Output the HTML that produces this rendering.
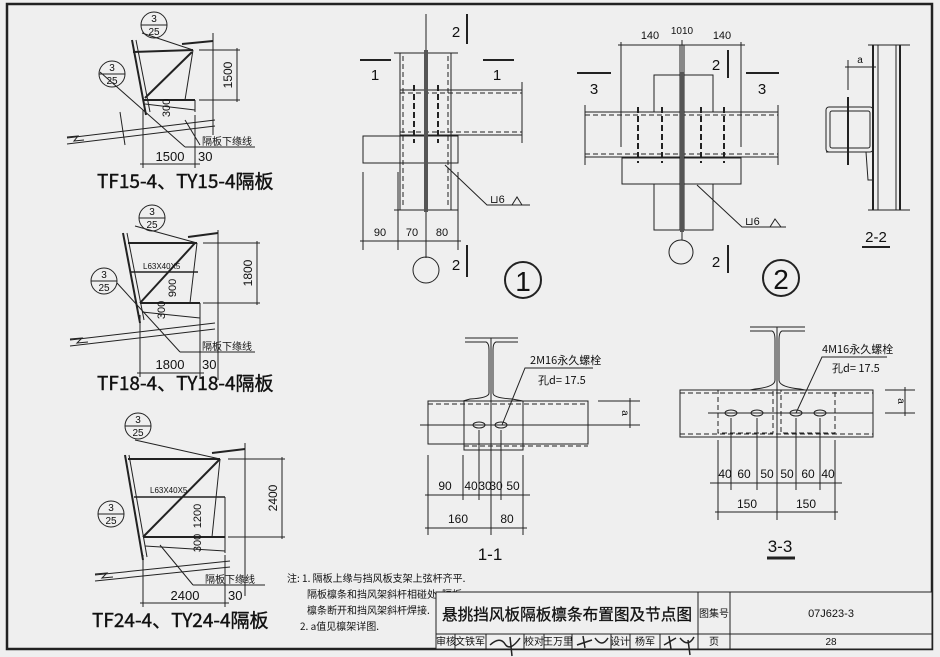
<!DOCTYPE html>
<html><head><meta charset="utf-8"><style>
html,body{margin:0;padding:0;background:#efefef}
svg{display:block}
text{font-family:"Liberation Sans","Noto Sans CJK SC",sans-serif;fill:#111}
.c{font-family:"Noto Sans CJK SC","WenQuanYi Zen Hei",sans-serif}
</style></head><body>
<svg width="940" height="657" viewBox="0 0 940 657" xmlns="http://www.w3.org/2000/svg" stroke="#222" fill="none" stroke-width="1">
<rect x="0" y="0" width="940" height="657" fill="#efefef" stroke="none"/>
<rect x="7" y="4" width="925" height="645" stroke-width="2.5"/>

<!-- ===== Left drawing 1 ===== -->
<g>
<circle cx="154" cy="25" r="13"/><line x1="141" y1="25" x2="167" y2="25"/>
<text x="154" y="22" font-size="10" text-anchor="middle" stroke="none">3</text><text x="154" y="35" font-size="10" text-anchor="middle" stroke="none">25</text>
<circle cx="112" cy="74" r="13"/><line x1="99" y1="74" x2="125" y2="74"/>
<text x="112" y="71" font-size="10" text-anchor="middle" stroke="none">3</text><text x="112" y="84" font-size="10" text-anchor="middle" stroke="none">25</text>
<line x1="142" y1="33" x2="193" y2="50"/><line x1="133" y1="52" x2="193" y2="50" stroke-width="2"/>
<line x1="132" y1="40" x2="146" y2="115" stroke-width="2"/><line x1="136" y1="40" x2="150" y2="112"/>
<line x1="193" y1="50" x2="185" y2="100"/><line x1="143" y1="100" x2="195" y2="100" stroke-width="2"/>
<line x1="145" y1="98" x2="192" y2="52" stroke-width="2"/>
<line x1="145" y1="104" x2="195" y2="110"/><line x1="195" y1="100" x2="195" y2="112"/>
<line x1="182" y1="44" x2="213" y2="41" stroke-width="2"/><line x1="213" y1="33" x2="213" y2="135"/>
<line x1="199" y1="50" x2="240" y2="50"/><line x1="199" y1="100" x2="240" y2="100"/>
<line x1="237" y1="48" x2="237" y2="102"/>
<text transform="translate(232,75) rotate(-90)" font-size="12" text-anchor="middle" stroke="none">1500</text>
<text transform="translate(170,108) rotate(-90)" font-size="11" text-anchor="middle" stroke="none">300</text>
<polyline points="67,138 215,120"/><polyline points="67,144 215,126"/>
<polyline points="67,137 78,136 74,141 84,140"/>
<line x1="120" y1="112" x2="125" y2="145"/><line x1="185" y1="120" x2="200" y2="145"/>
<line x1="143" y1="110" x2="143" y2="168"/><line x1="195" y1="115" x2="195" y2="168"/>
<line x1="140" y1="164" x2="200" y2="164"/>
<line x1="100" y1="72" x2="185" y2="147"/><line x1="185" y1="147" x2="255" y2="147"/>
<text x="202" y="145" font-size="10" class="c" stroke="none">隔板下缘线</text>
<text x="170" y="161" font-size="13" text-anchor="middle" stroke="none">1500</text>
<text x="198" y="161" font-size="13" stroke="none">30</text>
<text x="97" y="188" font-size="19" class="c" stroke="#111" stroke-width="0.4">TF15-4、TY15-4隔板</text>
</g>

<!-- ===== Left drawing 2 ===== -->
<g>
<circle cx="152" cy="218" r="13"/><line x1="139" y1="218" x2="165" y2="218"/>
<text x="152" y="215" font-size="10" text-anchor="middle" stroke="none">3</text><text x="152" y="228" font-size="10" text-anchor="middle" stroke="none">25</text>
<circle cx="104" cy="281" r="13"/><line x1="91" y1="281" x2="117" y2="281"/>
<text x="104" y="278" font-size="10" text-anchor="middle" stroke="none">3</text><text x="104" y="291" font-size="10" text-anchor="middle" stroke="none">25</text>
<line x1="135" y1="226" x2="197" y2="243"/><line x1="128" y1="243" x2="197" y2="243" stroke-width="2"/>
<line x1="123" y1="233" x2="140" y2="323" stroke-width="2"/><line x1="127" y1="233" x2="144" y2="320"/>
<line x1="197" y1="243" x2="190" y2="303"/><line x1="130" y1="272" x2="198" y2="272" stroke-width="1.5"/>
<line x1="140" y1="303" x2="200" y2="303" stroke-width="2"/><line x1="140" y1="303" x2="195" y2="243" stroke-width="2"/>
<line x1="142" y1="312" x2="200" y2="318"/><line x1="200" y1="303" x2="200" y2="320"/>
<line x1="188" y1="237" x2="218" y2="233" stroke-width="2"/><line x1="218" y1="230" x2="218" y2="380"/>
<line x1="203" y1="243" x2="260" y2="243"/><line x1="203" y1="303" x2="260" y2="303"/>
<line x1="257" y1="241" x2="257" y2="305"/>
<text transform="translate(252,273) rotate(-90)" font-size="12" text-anchor="middle" stroke="none">1800</text>
<text transform="translate(176,288) rotate(-90)" font-size="11" text-anchor="middle" stroke="none">900</text>
<text transform="translate(165,310) rotate(-90)" font-size="11" text-anchor="middle" stroke="none">300</text>
<text x="143" y="269" font-size="8" stroke="none">L63X40X5</text>
<polyline points="70,340 215,323"/><polyline points="70,346 215,329"/>
<polyline points="70,339 82,338 77,343 88,342"/>
<line x1="140" y1="315" x2="140" y2="377"/><line x1="200" y1="320" x2="200" y2="377"/>
<line x1="137" y1="373" x2="204" y2="373"/>
<line x1="117" y1="283" x2="180" y2="352"/><line x1="180" y1="352" x2="255" y2="352"/>
<text x="202" y="350" font-size="10" class="c" stroke="none">隔板下缘线</text>
<text x="170" y="369" font-size="13" text-anchor="middle" stroke="none">1800</text>
<text x="202" y="369" font-size="13" stroke="none">30</text>
<text x="97" y="390" font-size="19" class="c" stroke="#111" stroke-width="0.4">TF18-4、TY18-4隔板</text>
</g>

<!-- ===== Left drawing 3 ===== -->
<g>
<circle cx="138" cy="426" r="13"/><line x1="125" y1="426" x2="151" y2="426"/>
<text x="138" y="423" font-size="10" text-anchor="middle" stroke="none">3</text><text x="138" y="436" font-size="10" text-anchor="middle" stroke="none">25</text>
<circle cx="111" cy="514" r="13"/><line x1="98" y1="514" x2="124" y2="514"/>
<text x="111" y="511" font-size="10" text-anchor="middle" stroke="none">3</text><text x="111" y="524" font-size="10" text-anchor="middle" stroke="none">25</text>
<line x1="135" y1="440" x2="220" y2="459"/><line x1="128" y1="459" x2="220" y2="459" stroke-width="2"/>
<line x1="125" y1="455" x2="143" y2="560" stroke-width="2"/><line x1="129" y1="455" x2="147" y2="557"/>
<line x1="220" y1="459" x2="212" y2="537"/><line x1="134" y1="497" x2="225" y2="497" stroke-width="1.5"/>
<line x1="143" y1="537" x2="225" y2="537" stroke-width="2"/><line x1="143" y1="537" x2="220" y2="459" stroke-width="2"/>
<line x1="145" y1="546" x2="225" y2="551"/><line x1="225" y1="497" x2="225" y2="553"/>
<line x1="212" y1="453" x2="245" y2="449" stroke-width="2"/><line x1="245" y1="443" x2="245" y2="596"/>
<line x1="228" y1="459" x2="285" y2="459"/><line x1="228" y1="537" x2="285" y2="537"/>
<line x1="282" y1="457" x2="282" y2="539"/>
<text transform="translate(277,498) rotate(-90)" font-size="12" text-anchor="middle" stroke="none">2400</text>
<text transform="translate(201,516) rotate(-90)" font-size="11" text-anchor="middle" stroke="none">1200</text>
<text transform="translate(201,543) rotate(-90)" font-size="11" text-anchor="middle" stroke="none">300</text>
<text x="150" y="493" font-size="8" stroke="none">L63X40X5</text>
<polyline points="95,575 230,561"/><polyline points="95,581 230,567"/>
<polyline points="95,574 107,573 102,578 113,577"/>
<line x1="143" y1="555" x2="143" y2="607"/><line x1="225" y1="555" x2="225" y2="607"/>
<line x1="140" y1="603" x2="229" y2="603"/>
<line x1="160" y1="545" x2="193" y2="585"/><line x1="193" y1="585" x2="265" y2="585"/>
<text x="205" y="583" font-size="10" class="c" stroke="none">隔板下缘线</text>
<text x="185" y="600" font-size="13" text-anchor="middle" stroke="none">2400</text>
<text x="228" y="600" font-size="13" stroke="none">30</text>
<text x="92" y="627" font-size="19" class="c" stroke="#111" stroke-width="0.4">TF24-4、TY24-4隔板</text>
</g>

<!-- ===== Detail 1 ===== -->
<g>
<line x1="426" y1="14" x2="426" y2="258"/>
<rect x="400" y="53" width="51" height="157"/>
<line x1="394" y1="53" x2="458" y2="53"/><line x1="394" y1="210" x2="458" y2="210"/>
<line x1="400" y1="90" x2="522" y2="90"/><line x1="400" y1="135" x2="522" y2="135"/>
<line x1="400" y1="93" x2="522" y2="93" stroke-dasharray="5,3"/><line x1="400" y1="132" x2="522" y2="132" stroke-dasharray="5,3"/>
<line x1="522" y1="82" x2="522" y2="143"/>
<line x1="403" y1="56" x2="403" y2="206" stroke-dasharray="5,3"/><line x1="448" y1="56" x2="448" y2="206" stroke-dasharray="5,3"/>
<rect x="363" y="136" width="95" height="27"/>
<line x1="414" y1="85" x2="414" y2="143" stroke-width="2" stroke-dasharray="6,3"/>
<line x1="438" y1="85" x2="438" y2="143" stroke-width="2" stroke-dasharray="6,3"/>
<line x1="426" y1="50" x2="426" y2="212" stroke-width="4" stroke="#555"/>
<line x1="360" y1="60" x2="391" y2="60" stroke-width="2"/><text x="375" y="80" font-size="15" text-anchor="middle" stroke="none">1</text>
<line x1="483" y1="60" x2="514" y2="60" stroke-width="2"/><text x="497" y="80" font-size="15" text-anchor="middle" stroke="none">1</text>
<line x1="467" y1="14" x2="467" y2="44" stroke-width="2"/><text x="456" y="37" font-size="15" text-anchor="middle" stroke="none">2</text>
<line x1="467" y1="245" x2="467" y2="277" stroke-width="2"/><text x="456" y="270" font-size="15" text-anchor="middle" stroke="none">2</text>
<line x1="363" y1="172" x2="363" y2="250"/><line x1="398" y1="172" x2="398" y2="250"/><line x1="458" y1="172" x2="458" y2="250"/>
<line x1="360" y1="241" x2="461" y2="241"/>
<text x="380" y="236" font-size="11" text-anchor="middle" stroke="none">90</text>
<text x="412" y="236" font-size="11" text-anchor="middle" stroke="none">70</text>
<text x="442" y="236" font-size="11" text-anchor="middle" stroke="none">80</text>
<circle cx="426" cy="270" r="13"/>
<polyline points="445,165 487,205 530,205"/>
<text x="490" y="203" font-size="11" stroke="none">⊔6</text>
<polyline points="512,205 517,197 522,205"/>
<circle cx="523" cy="280" r="18" stroke-width="2"/><text x="523" y="291" font-size="28" text-anchor="middle" stroke="none">1</text>
</g>

<!-- ===== Detail 2 ===== -->
<g>
<line x1="682" y1="40" x2="682" y2="240"/>
<line x1="618" y1="45" x2="745" y2="45"/>
<line x1="621" y1="42" x2="621" y2="147"/><line x1="741" y1="42" x2="741" y2="147"/>
<text x="650" y="39" font-size="11" text-anchor="middle" stroke="none">140</text>
<text x="682" y="34" font-size="10" text-anchor="middle" stroke="none">1010</text>
<text x="722" y="39" font-size="11" text-anchor="middle" stroke="none">140</text>
<line x1="585" y1="112" x2="778" y2="112"/><line x1="585" y1="157" x2="778" y2="157"/>
<line x1="585" y1="115" x2="778" y2="115" stroke-dasharray="5,3"/><line x1="585" y1="154" x2="778" y2="154" stroke-dasharray="5,3"/>
<line x1="585" y1="105" x2="585" y2="165"/><line x1="778" y1="105" x2="778" y2="165"/>
<polyline points="654,112 654,75 713,75 713,112"/>
<rect x="622" y="158" width="119" height="26"/>
<polyline points="654,184 654,230 713,230 713,184"/>
<line x1="638" y1="107" x2="638" y2="163" stroke-width="2" stroke-dasharray="6,3"/>
<line x1="662" y1="107" x2="662" y2="163" stroke-width="2" stroke-dasharray="6,3"/>
<line x1="701" y1="107" x2="701" y2="163" stroke-width="2" stroke-dasharray="6,3"/>
<line x1="724" y1="107" x2="724" y2="163" stroke-width="2" stroke-dasharray="6,3"/>
<line x1="680" y1="45" x2="680" y2="230"/><line x1="684" y1="45" x2="684" y2="230"/>
<line x1="682" y1="72" x2="682" y2="232" stroke-width="4" stroke="#555"/>
<line x1="577" y1="73" x2="611" y2="73" stroke-width="2"/><text x="594" y="94" font-size="15" text-anchor="middle" stroke="none">3</text>
<line x1="746" y1="73" x2="779" y2="73" stroke-width="2"/><text x="762" y="94" font-size="15" text-anchor="middle" stroke="none">3</text>
<line x1="728" y1="50" x2="728" y2="78" stroke-width="2"/><text x="716" y="70" font-size="15" text-anchor="middle" stroke="none">2</text>
<line x1="728" y1="245" x2="728" y2="273" stroke-width="2"/><text x="716" y="267" font-size="15" text-anchor="middle" stroke="none">2</text>
<circle cx="681" cy="252" r="12"/>
<polyline points="697,185 742,227 786,227"/>
<text x="745" y="225" font-size="11" stroke="none">⊔6</text>
<polyline points="770,227 775,219 781,227"/>
<circle cx="781" cy="278" r="18" stroke-width="2"/><text x="781" y="289" font-size="28" text-anchor="middle" stroke="none">2</text>
</g>

<!-- ===== 2-2 ===== -->
<g>
<line x1="873" y1="45" x2="873" y2="210" stroke-width="2"/><line x1="878" y1="45" x2="878" y2="210"/>
<line x1="896" y1="45" x2="896" y2="210"/><line x1="900" y1="45" x2="900" y2="210" stroke-width="2"/>
<line x1="868" y1="45" x2="910" y2="45"/><line x1="868" y1="210" x2="910" y2="210"/>
<rect x="826" y="107" width="47" height="45" rx="3"/><rect x="830" y="111" width="40" height="37" rx="2"/>
<polyline points="826,152 866,152 868,180 873,180"/>
<line x1="848" y1="97" x2="848" y2="165" stroke-width="2"/>
<line x1="848" y1="60" x2="848" y2="90"/><line x1="845" y1="67" x2="876" y2="67"/>
<text x="860" y="63" font-size="10" text-anchor="middle" stroke="none">a</text>
<text x="876" y="242" font-size="15" text-anchor="middle" stroke="none">2-2</text>
<line x1="862" y1="247" x2="890" y2="247" stroke-width="2"/>
</g>

<!-- ===== 1-1 ===== -->
<g>
<path d="M465,338 L518,338 M465,342 L486,342 Q489,343 489,350 L489,393 Q489,398 470,399 L463,401 M518,342 L496,342 Q493,343 493,350 L493,393 Q493,398 512,399 L523,401"/>
<line x1="491" y1="338" x2="491" y2="450" />
<rect x="428" y="401" width="160" height="43"/>
<line x1="428" y1="404" x2="588" y2="404" stroke-dasharray="5,3"/>
<rect x="464" y="401" width="59" height="49"/>
<line x1="464" y1="446" x2="588" y2="446" stroke-dasharray="5,3"/>
<line x1="420" y1="425" x2="640" y2="425"/>
<ellipse cx="479" cy="425" rx="6" ry="3"/><ellipse cx="501" cy="425" rx="6" ry="3"/>
<line x1="598" y1="401" x2="640" y2="401"/><line x1="630" y1="398" x2="630" y2="428"/>
<text transform="translate(622,413) rotate(90)" font-size="10" text-anchor="middle" stroke="none">a</text>
<line x1="428" y1="455" x2="428" y2="535"/><line x1="463" y1="455" x2="463" y2="500"/>
<line x1="479" y1="430" x2="479" y2="500"/><line x1="491" y1="450" x2="491" y2="535"/>
<line x1="501" y1="430" x2="501" y2="500"/><line x1="523" y1="455" x2="523" y2="535"/>
<line x1="425" y1="495" x2="530" y2="495"/><line x1="425" y1="528" x2="527" y2="528"/>
<text x="445" y="490" font-size="12" text-anchor="middle" stroke="none">90</text>
<text x="471" y="490" font-size="12" text-anchor="middle" stroke="none">40</text>
<text x="485" y="490" font-size="12" text-anchor="middle" stroke="none">30</text>
<text x="496" y="490" font-size="12" text-anchor="middle" stroke="none">30</text>
<text x="513" y="490" font-size="12" text-anchor="middle" stroke="none">50</text>
<text x="458" y="523" font-size="12" text-anchor="middle" stroke="none">160</text>
<text x="507" y="523" font-size="12" text-anchor="middle" stroke="none">80</text>
<polyline points="502,425 525,368 593,368"/>
<text x="530" y="364" font-size="11" class="c" stroke="none">2M16永久螺栓</text>
<text x="538" y="384" font-size="11" class="c" stroke="none">孔d= 17.5</text>
<text x="490" y="560" font-size="17" text-anchor="middle" stroke="none">1-1</text>
</g>

<!-- ===== 3-3 ===== -->
<g>
<path d="M750,327 L805,327 M750,331 L772,331 Q775,332 775,340 L775,380 Q775,387 755,389 L750,390 M805,331 L782,331 Q779,332 779,340 L779,380 Q779,387 800,389 L805,390"/>
<line x1="777" y1="327" x2="777" y2="520"/>
<rect x="680" y="390" width="193" height="47"/>
<line x1="680" y1="393" x2="873" y2="393" stroke-dasharray="5,3"/><line x1="680" y1="434" x2="873" y2="434" stroke-dasharray="5,3"/>
<rect x="718" y="390" width="55" height="43" stroke-dasharray="5,3"/><rect x="781" y="390" width="54" height="43" stroke-dasharray="5,3"/>
<line x1="708" y1="413" x2="873" y2="413"/>
<ellipse cx="731" cy="413" rx="6" ry="3"/><ellipse cx="757" cy="413" rx="6" ry="3"/>
<ellipse cx="796" cy="413" rx="6" ry="3"/><ellipse cx="820" cy="413" rx="6" ry="3"/>
<line x1="885" y1="390" x2="915" y2="390"/><line x1="885" y1="413" x2="915" y2="413"/>
<line x1="905" y1="387" x2="905" y2="416"/>
<text transform="translate(898,401) rotate(90)" font-size="10" text-anchor="middle" stroke="none">a</text>
<line x1="718" y1="440" x2="718" y2="520"/><line x1="731" y1="418" x2="731" y2="490"/>
<line x1="757" y1="418" x2="757" y2="490"/><line x1="796" y1="418" x2="796" y2="490"/>
<line x1="820" y1="418" x2="820" y2="490"/><line x1="835" y1="440" x2="835" y2="520"/>
<line x1="710" y1="483" x2="842" y2="483"/><line x1="715" y1="512" x2="838" y2="512"/>
<text x="725" y="478" font-size="12" text-anchor="middle" stroke="none">40</text>
<text x="744" y="478" font-size="12" text-anchor="middle" stroke="none">60</text>
<text x="767" y="478" font-size="12" text-anchor="middle" stroke="none">50</text>
<text x="787" y="478" font-size="12" text-anchor="middle" stroke="none">50</text>
<text x="808" y="478" font-size="12" text-anchor="middle" stroke="none">60</text>
<text x="828" y="478" font-size="12" text-anchor="middle" stroke="none">40</text>
<text x="747" y="508" font-size="12" text-anchor="middle" stroke="none">150</text>
<text x="806" y="508" font-size="12" text-anchor="middle" stroke="none">150</text>
<polyline points="796,413 822,357 887,357"/>
<text x="822" y="353" font-size="11" class="c" stroke="none">4M16永久螺栓</text>
<text x="832" y="372" font-size="11" class="c" stroke="none">孔d= 17.5</text>
<text x="780" y="552" font-size="17" text-anchor="middle" stroke="none">3-3</text>
<line x1="767" y1="558" x2="795" y2="558" stroke-width="3"/>
</g>

<!-- ===== Notes ===== -->
<g font-size="10">
<text x="287" y="582" stroke="none" class="c">注: 1. 隔板上缘与挡风板支架上弦杆齐平.</text>
<text x="307" y="598" stroke="none" class="c">隔板檩条和挡风架斜杆相碰处, 隔板</text>
<text x="307" y="614" stroke="none" class="c">檩条断开和挡风架斜杆焊接.</text>
<text x="300" y="630" stroke="none" class="c">2. a值见檩架详图.</text>
</g>

<!-- ===== Title block ===== -->
<g>
<rect x="436" y="592" width="496" height="57" fill="#efefef"/>
<line x1="436" y1="634" x2="932" y2="634"/>
<line x1="698" y1="592" x2="698" y2="649"/><line x1="730" y1="592" x2="730" y2="649"/>
<line x1="455" y1="634" x2="455" y2="649"/><line x1="486" y1="634" x2="486" y2="649"/>
<line x1="524" y1="634" x2="524" y2="649"/><line x1="544" y1="634" x2="544" y2="649"/>
<line x1="572" y1="634" x2="572" y2="649"/><line x1="611" y1="634" x2="611" y2="649"/>
<line x1="630" y1="634" x2="630" y2="649"/><line x1="660" y1="634" x2="660" y2="649"/>
<text x="567" y="620" font-size="16" text-anchor="middle" class="c" stroke="#111" stroke-width="0.3" textLength="250" lengthAdjust="spacingAndGlyphs">悬挑挡风板隔板檩条布置图及节点图</text>
<text x="714" y="617" font-size="10" text-anchor="middle" class="c" stroke="none">图集号</text>
<text x="831" y="617" font-size="11" text-anchor="middle" stroke="none">07J623-3</text>
<g font-size="10" text-anchor="middle">
<text x="446" y="645" class="c" stroke="none">审核</text>
<text x="470" y="645" class="c" stroke="none">文铁军</text>
<text x="534" y="645" class="c" stroke="none">校对</text>
<text x="558" y="645" class="c" stroke="none">王万里</text>
<text x="620" y="645" class="c" stroke="none">设计</text>
<text x="645" y="645" class="c" stroke="none">杨军</text>
<text x="714" y="645" class="c" stroke="none">页</text>
<text x="831" y="645" stroke="none">28</text>
</g>
<path d="M490,645 Q500,636 505,644 T520,638 M510,637 L512,656" stroke-width="1.5"/>
<path d="M577,645 L592,640 M583,636 L585,648 M595,638 Q602,648 608,638" stroke-width="1.5"/>
<path d="M664,645 L676,638 M669,636 L671,649 M680,638 Q688,648 694,637 M688,640 L690,655" stroke-width="1.5"/>
</g>
</svg>
</body></html>
